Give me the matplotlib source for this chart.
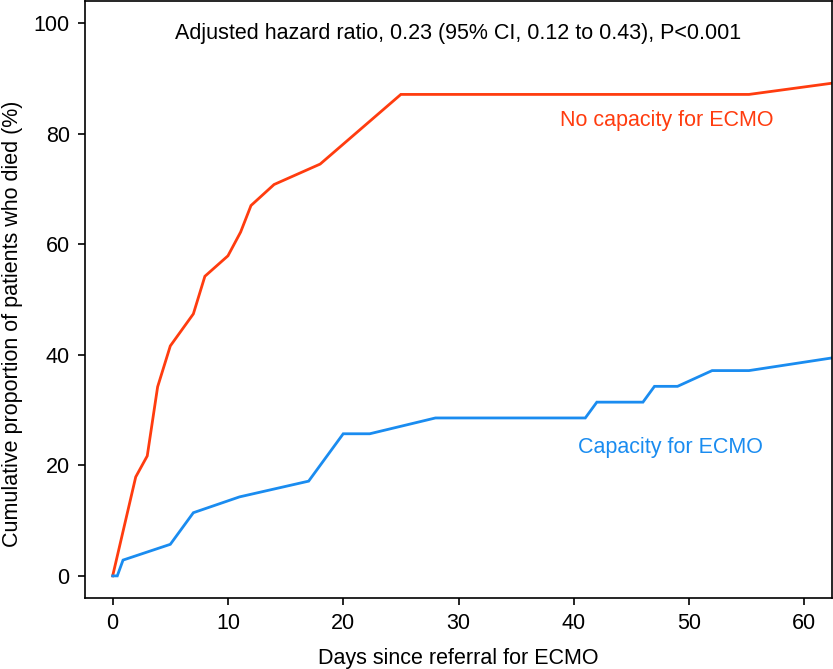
import numpy as np
import matplotlib.pyplot as plt

plt.rcParams['font.family'] = ['Liberation Sans', 'DejaVu Sans']

# Curva sin capacidad de ECMO
dias_no = [0, 2, 3, 3.9, 5, 7, 8, 10, 11.1, 12, 14, 18, 25, 55.2, 62.3]
muerte_no = [0, 17.9, 21.7, 34.2, 41.6, 47.4, 54.2, 57.9, 62.2, 67.0, 70.8, 74.5, 87.1, 87.1, 89.1]

# Curva con capacidad de ECMO
dias_si = [0, 0.4, 0.9, 5, 7, 11, 17, 20, 22.3, 28, 41, 42, 46, 47, 49, 52, 55.2, 62.3]
muerte_si = [0, 0, 2.86, 5.71, 11.43, 14.29, 17.14, 25.71, 25.71, 28.57, 28.57, 31.43, 31.43,
             34.29, 34.29, 37.14, 37.14, 39.4]

clr_rojo = '#FF3C0F'
clr_azul = '#1A8CF0'
fs = 15.5

fig = plt.figure(figsize=(8.33, 6.69), dpi=100)
ax = fig.add_axes([85/833, 1 - 598/669, (832-85)/833, (598-1)/669])

ax.plot(dias_no, muerte_no, '-', color=clr_rojo, linewidth=2, solid_joinstyle='miter')
ax.plot(dias_si, muerte_si, '-', color=clr_azul, linewidth=2, solid_joinstyle='miter')

ax.set_xlim(-2.4, 62.4); ax.set_xticks(np.arange(0, 61, 10))
ax.set_ylim(-4, 104); ax.set_yticks(np.arange(0, 101, 20))
ax.tick_params(direction='out', length=5, width=1.2, labelsize=fs, pad=6)
for s in ax.spines.values():
    s.set_linewidth(1.2)

ax.set_xlabel('Days since referral for ECMO', fontsize=fs, labelpad=10)
ax.set_ylabel('Cumulative proportion of patients who died (%)', fontsize=fs)
ax.yaxis.set_label_coords(-0.083, 0.46)

ax.text(30, 98.2, 'Adjusted hazard ratio, 0.23 (95% CI, 0.12 to 0.43), P<0.001',
        fontsize=fs, ha='center', va='center')
ax.text(48.1, 82.3, 'No capacity for ECMO', color=clr_rojo, fontsize=fs,
        ha='center', va='center')
ax.text(48.4, 23.3, 'Capacity for ECMO', color=clr_azul, fontsize=fs,
        ha='center', va='center')

fig.savefig('out.png', dpi=100)
